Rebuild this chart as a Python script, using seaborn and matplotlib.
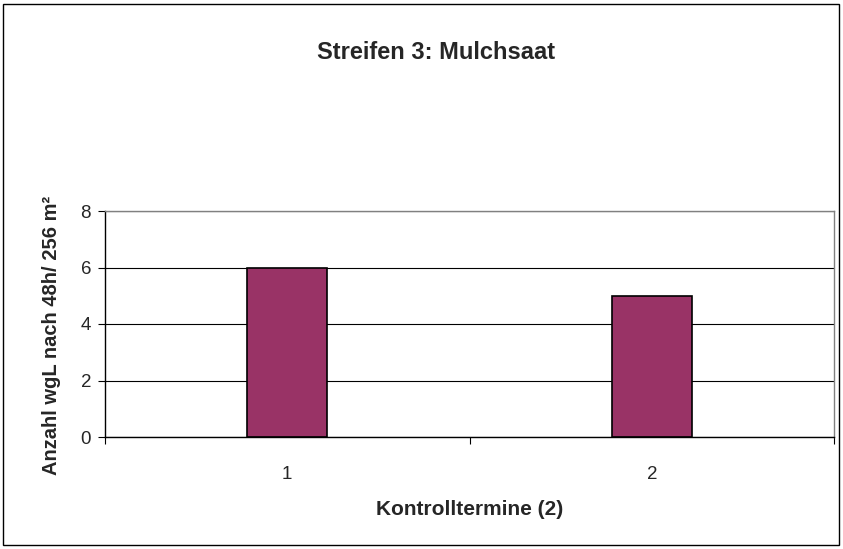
import matplotlib
matplotlib.use("Agg")
import matplotlib.pyplot as plt
import pandas as pd
import seaborn as sns

# data
termine = ["1", "2"]
anzahl = [6, 5]
y_ticks = [0, 2, 4, 6, 8]

sns.set_style("white")
plt.rcParams["font.family"] = ["Liberation Sans", "DejaVu Sans"]

df = pd.DataFrame({"Termin": termine, "Anzahl": anzahl})

fig = plt.figure(figsize=(8.43, 5.49), dpi=100)
ax = fig.add_axes([105 / 843, 112 / 549, 729 / 843, 226 / 549])

sns.barplot(data=df, x="Termin", y="Anzahl", color="#993366",
            edgecolor="black", linewidth=1.2, width=0.22, saturation=1, ax=ax)

ax.set_xlim(-0.5, 1.5)
ax.set_ylim(0, 8)
ax.set_yticks(y_ticks)
ax.yaxis.grid(True, color="black", linewidth=0.8)
ax.set_axisbelow(True)

# excel-style ticks: category boundaries get marks, labels have none
ax.set_xticks([-0.5, 0.5, 1.5], minor=True)
ax.tick_params(axis="x", which="major", length=0, labelsize=13.5, pad=21)
ax.tick_params(axis="x", which="minor", length=5, width=0.8, color="black",
               direction="out", bottom=True)
ax.tick_params(axis="y", length=5, width=0.8, color="black", direction="out",
               left=True, labelsize=13.5, pad=5)

for side in ["left", "bottom"]:
    ax.spines[side].set_color("black")
    ax.spines[side].set_linewidth(1.0)
for side in ["top", "right"]:
    ax.spines[side].set_visible(True)
    ax.spines[side].set_color("#808080")
    ax.spines[side].set_linewidth(1.0)

ax.set_xlabel("Kontrolltermine (2)", fontsize=15, fontweight="bold", labelpad=12)
ax.set_ylabel("Anzahl wgL nach 48h/ 256 m²", fontsize=14.5, fontweight="bold",
              labelpad=14)
ax.yaxis.label.set_y(0.45)

fig.text(0.517, 0.905, "Streifen 3: Mulchsaat", ha="center", va="center",
         fontsize=17, fontweight="bold")

# outer chart border
fig.patches.append(plt.Rectangle((3 / 843, 4 / 549), 836 / 843, 541 / 549,
                                 transform=fig.transFigure, fill=False,
                                 edgecolor="black", linewidth=1.0))

fig.savefig("out.png", dpi=100)
